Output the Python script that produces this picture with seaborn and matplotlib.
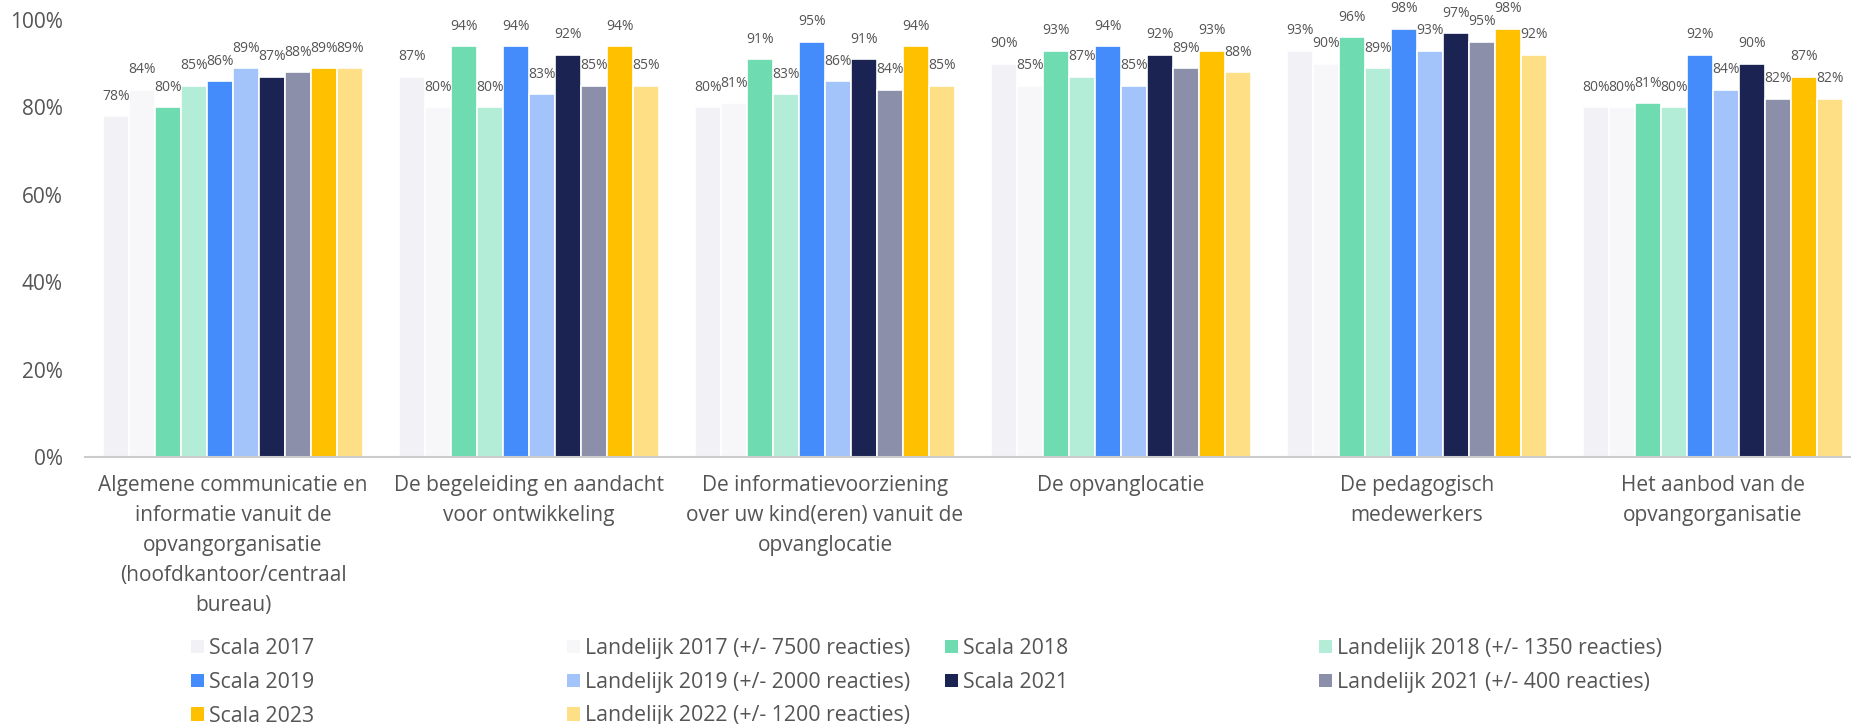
import matplotlib.pyplot as plt
import pandas as pd
import seaborn as sns
from matplotlib.patches import Patch

# Categories (x axis)
CATEGORIES = [
    "Algemene communicatie en\ninformatie vanuit de\nopvangorganisatie\n(hoofdkantoor/centraal\nbureau)",
    "De begeleiding en aandacht\nvoor ontwikkeling",
    "De informatievoorziening\nover uw kind(eren) vanuit de\nopvanglocatie",
    "De opvanglocatie",
    "De pedagogisch\nmedewerkers",
    "Het aanbod van de\nopvangorganisatie",
]

SERIES = [
    "Scala 2017",
    "Landelijk 2017 (+/- 7500 reacties)",
    "Scala 2018",
    "Landelijk 2018 (+/- 1350 reacties)",
    "Scala 2019",
    "Landelijk 2019 (+/- 2000 reacties)",
    "Scala 2021",
    "Landelijk 2021 (+/- 400 reacties)",
    "Scala 2023",
    "Landelijk 2022 (+/- 1200 reacties)",
]

COLORS = [
    "#f1f1f6", "#f7f7fa",
    "#6edcb0", "#b3ecd7",
    "#448cfc", "#a3c4fa",
    "#1a2352", "#8b8fa9",
    "#ffc000", "#ffdf86",
]

# Values per series, one per category (percent)
scala_2017 = [78, 87, 80, 90, 93, 80]
landelijk_2017 = [84, 80, 81, 85, 90, 80]
scala_2018 = [80, 94, 91, 93, 96, 81]
landelijk_2018 = [85, 80, 83, 87, 89, 80]
scala_2019 = [86, 94, 95, 94, 98, 92]
landelijk_2019 = [89, 83, 86, 85, 93, 84]
scala_2021 = [87, 92, 91, 92, 97, 90]
landelijk_2021 = [88, 85, 84, 89, 95, 82]
scala_2023 = [89, 94, 94, 93, 98, 87]
landelijk_2022 = [89, 85, 85, 88, 92, 82]

VALUES = [
    scala_2017, landelijk_2017, scala_2018, landelijk_2018, scala_2019,
    landelijk_2019, scala_2021, landelijk_2021, scala_2023, landelijk_2022,
]

Y_TICKS = [0, 20, 40, 60, 80, 100]

TEXT_COLOR = "#555555"

rows = []
for name, vals in zip(SERIES, VALUES):
    for cat, v in zip(CATEGORIES, vals):
        rows.append({"category": cat, "series": name, "value": v})
df = pd.DataFrame(rows)

sns.set_theme(style="white")
plt.rcParams["font.family"] = ["Open Sans", "DejaVu Sans"]

W, H = 1851, 724
fig = plt.figure(figsize=(W / 100, H / 100), dpi=100)
ax = fig.add_axes([85 / W, 267 / H, 1766 / W, 437 / H])

sns.barplot(
    data=df,
    x="category",
    y="value",
    hue="series",
    order=CATEGORIES,
    hue_order=SERIES,
    palette=dict(zip(SERIES, COLORS)),
    width=0.88,
    edgecolor="white",
    linewidth=1.2,
    saturation=1,
    legend=False,
    ax=ax,
)

for container in ax.containers:
    ax.bar_label(
        container,
        labels=[f"{v:.0f}%" for v in container.datavalues],
        padding=9,
        fontsize=10,
        color=TEXT_COLOR,
        clip_on=False,
    )

ax.set_xlim(-0.5, 5.5 - 10 / 296)
ax.set_ylim(0, 100)
ax.set_yticks(Y_TICKS)
ax.set_yticklabels([f"{t}%" for t in Y_TICKS])
ax.set_xlabel("")
ax.set_ylabel("")
ax.tick_params(axis="y", length=0, pad=16, labelsize=15, labelcolor=TEXT_COLOR)
ax.tick_params(axis="x", length=0, pad=13, labelsize=15, labelcolor=TEXT_COLOR)
for lbl in ax.get_xticklabels():
    lbl.set_linespacing(1.56)

for side in ["top", "right", "left"]:
    ax.spines[side].set_visible(False)
ax.spines["bottom"].set_color("#cccccc")
ax.spines["bottom"].set_linewidth(1.5)
ax.grid(False)

# Legend: four fixed-width columns, filled row by row
col_x = [191, 567, 945, 1319]
for c, x in enumerate(col_x):
    idx = list(range(c, len(SERIES), 4))
    handles = [Patch(facecolor=COLORS[i], edgecolor="none") for i in idx]
    labels = [SERIES[i] for i in idx]
    leg = fig.legend(
        handles,
        labels,
        loc="upper left",
        bbox_to_anchor=(x / W, 1 - 638 / H),
        frameon=False,
        fontsize=15.3,
        handlelength=0.6,
        handleheight=0.6,
        handletextpad=0.25,
        labelspacing=0.6,
        borderpad=0,
        borderaxespad=0,
    )
    for t in leg.get_texts():
        t.set_color(TEXT_COLOR)

fig.savefig("out.png", dpi=100)
